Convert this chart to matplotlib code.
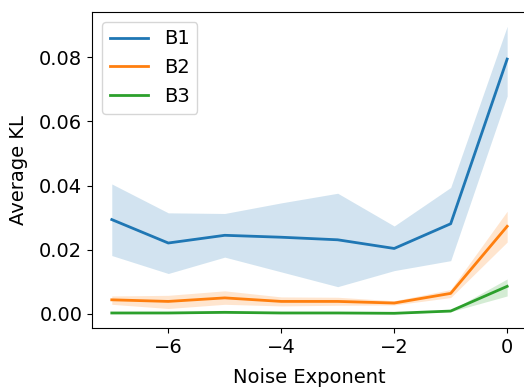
import matplotlib.pyplot as plt
import numpy as np

plt.rcParams['font.size'] = 14

x = np.array([-7, -6, -5, -4, -3, -2, -1, 0])

b1 = [0.0294, 0.0221, 0.0245, 0.0239, 0.0231, 0.0204, 0.0281, 0.0794]
b1_lo = [0.0182, 0.0126, 0.0177, 0.0131, 0.0085, 0.0135, 0.0166, 0.0679]
b1_hi = [0.0405, 0.0315, 0.0313, 0.0346, 0.0376, 0.0274, 0.0394, 0.0896]

b2 = [0.0044, 0.0039, 0.0050, 0.0039, 0.0039, 0.0034, 0.0064, 0.0273]
b2_lo = [0.0030, 0.0017, 0.0030, 0.0025, 0.0027, 0.0028, 0.0051, 0.0224]
b2_hi = [0.0056, 0.0058, 0.0072, 0.0053, 0.0052, 0.0041, 0.0076, 0.0320]

b3 = [0.0003, 0.0003, 0.0005, 0.0003, 0.0003, 0.0002, 0.0009, 0.0086]
b3_lo = [0.0001, 0.0001, 0.0002, 0.0001, 0.0001, 0.0001, 0.0007, 0.0056]
b3_hi = [0.0005, 0.0005, 0.0008, 0.0005, 0.0005, 0.0004, 0.0011, 0.0109]

fig = plt.figure(figsize=(5.24, 3.87), dpi=100)
ax = fig.add_axes([0.1756, 0.1525, 0.83, 0.8165])

for y, lo, hi, lab in [(b1, b1_lo, b1_hi, 'B1'), (b2, b2_lo, b2_hi, 'B2'), (b3, b3_lo, b3_hi, 'B3')]:
    line, = ax.plot(x, y, label=lab, lw=2)
    ax.fill_between(x, lo, hi, color=line.get_color(), alpha=0.2, lw=0)

ax.set_xlabel('Noise Exponent', labelpad=8)
ax.set_ylabel('Average KL', labelpad=8)
ax.set_xticks([-6, -4, -2, 0])
ax.set_yticks([0.0, 0.02, 0.04, 0.06, 0.08])
ax.legend(loc='upper left')

fig.savefig('out.png')
